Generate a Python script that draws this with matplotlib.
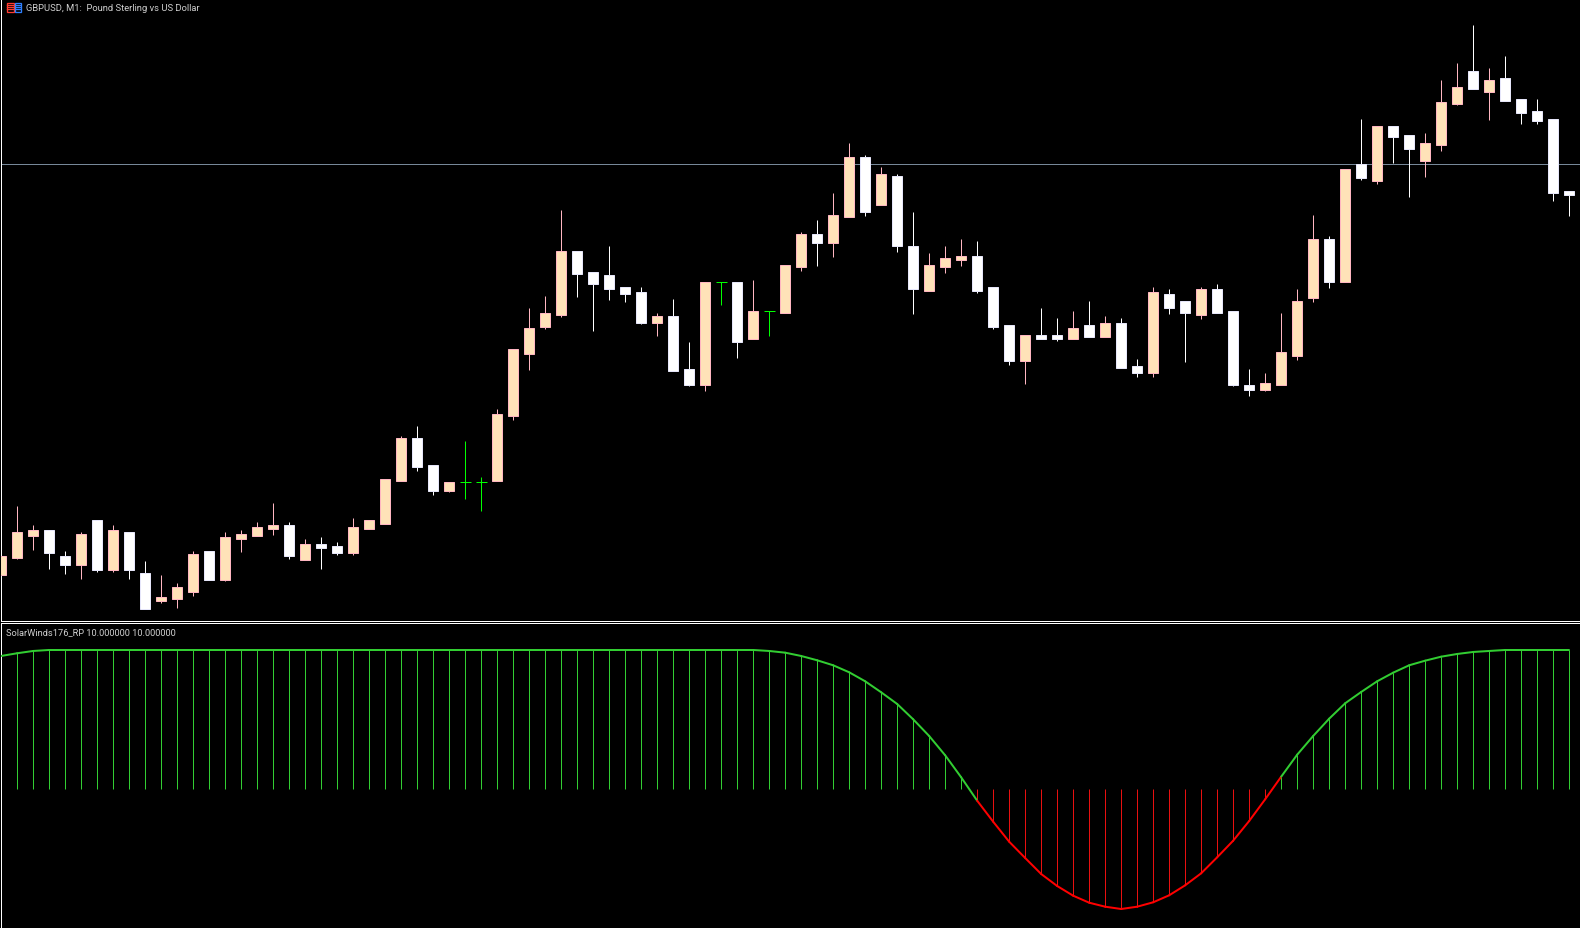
import matplotlib
matplotlib.use("Agg")
import matplotlib.pyplot as plt
from matplotlib.patches import Rectangle

W, H = 1580, 928

TITLE = "GBPUSD, M1:  Pound Sterling vs US Dollar"
INDICATOR = "SolarWinds176_RP 10.000000 10.000000"

# price in chart points, one entry per M1 bar
opens = [41, 58, 80, 86, 60, 51, 96, 46, 84, 43, 15, 17, 24, 65, 36, 77, 80, 87, 91, 56,
         72, 70, 63, 87, 92, 135, 178, 151, 125, 134, 134, 135, 200, 262, 289, 301, 365, 344, 341, 329,
         324, 293, 300, 247, 231, 334, 334, 277, 305, 303, 349, 382, 373, 399, 459, 411, 440, 370, 325, 349,
         356, 360, 329, 291, 255, 281, 281, 277, 291, 279, 293, 250, 243, 322, 315, 301, 327, 305, 231, 226,
         231, 260, 318, 377, 334, 452, 435, 490, 481, 455, 471, 512, 545, 524, 538, 517, 505, 497, 425]
highs = [60, 110, 91, 86, 65, 84, 96, 91, 84, 55, 41, 33, 65, 65, 84, 86, 94, 113, 94, 77,
         79, 74, 98, 96, 137, 180, 190, 151, 134, 175, 139, 207, 267, 308, 320, 406, 365, 344, 370, 329,
         329, 303, 317, 274, 334, 334, 334, 336, 305, 351, 384, 396, 423, 473, 461, 449, 442, 404, 363, 370,
         377, 375, 329, 291, 281, 308, 298, 305, 315, 300, 298, 257, 329, 327, 315, 329, 332, 305, 247, 243,
         303, 327, 401, 380, 447, 497, 490, 490, 481, 483, 536, 553, 591, 548, 560, 517, 517, 497, 425]
lows = [41, 57, 66, 47, 42, 37, 44, 44, 37, 7, 13, 8, 20, 36, 35, 64, 80, 81, 57, 56,
        47, 61, 61, 87, 92, 135, 145, 121, 124, 117, 105, 135, 196, 246, 287, 299, 319, 285, 316, 314,
        292, 280, 245, 230, 225, 311, 258, 277, 280, 303, 345, 350, 359, 399, 400, 411, 364, 302, 325, 343,
        350, 323, 287, 251, 232, 277, 275, 277, 279, 279, 248, 239, 239, 302, 254, 297, 303, 230, 220, 225,
        231, 256, 314, 328, 334, 436, 432, 453, 419, 439, 465, 511, 527, 496, 515, 492, 492, 415, 400]
closes = [60, 84, 86, 63, 51, 82, 46, 86, 46, 7, 19, 29, 62, 36, 79, 82, 89, 91, 60, 72,
          68, 63, 89, 96, 137, 178, 149, 125, 134, 134, 134, 202, 267, 288, 303, 365, 342, 332, 327, 322,
          293, 300, 245, 231, 334, 334, 274, 305, 305, 351, 382, 373, 401, 459, 404, 442, 370, 327, 351, 358,
          360, 325, 289, 255, 281, 277, 277, 288, 279, 293, 248, 243, 324, 308, 303, 327, 303, 231, 226, 233,
          264, 315, 377, 334, 447, 438, 490, 479, 467, 473, 514, 529, 527, 536, 515, 503, 495, 423, 421]

# SolarWinds indicator value for the same bars
solar = [133, 135.7, 138, 139, 139, 139, 139, 139, 139, 139, 139, 139, 139, 139, 139, 139, 139, 139, 139, 139,
         139, 139, 139, 139, 139, 139, 139, 139, 139, 139, 139, 139, 139, 139, 139, 139, 139, 139, 139, 139,
         139, 139, 139, 139, 139, 139, 139, 139, 138, 136.3, 133, 128.7, 123.7, 116.7, 107.7, 96.7, 85, 69.7, 53, 33.7,
         11.7, -11.7, -32.7, -52.7, -69, -85, -97, -106.7, -113.7, -117.7, -120, -117.7, -113.3, -106.3, -96.3, -84.3, -68.3, -51.7, -32, -10.3,
         12.3, 34.3, 53, 70.3, 85.7, 97, 107.7, 116.3, 123.7, 128.3, 132.3, 135, 137, 138, 139, 139, 139, 139, 139]

current_price = 452

BULL_FILL = "#FFE2B8"
BULL_EDGE = "#FFB6C1"
BEAR_FILL = "#FFFFFF"
BEAR_EDGE = "#E6E6FA"
DOJI = "#00FF00"
LINE_GREEN = "#32CD32"
LINE_RED = "#FF0000"
PX = 0.72  # one pixel in points at dpi 100
LEFT = 1.1  # left edge in pixels, Agg snaps this onto pixel column 1


def pane(top, bottom):
    ax = fig.add_axes([LEFT / W, 1 - bottom / H, (W - LEFT) / W, (bottom - top) / H])
    ax.set_facecolor("black")
    ax.set_xlim(0, (W - LEFT) / 16)
    ax.set_xticks([])
    ax.set_yticks([])
    for s in ("top", "right"):
        ax.spines[s].set_visible(False)
    ax.spines["left"].set_color("white")
    ax.spines["left"].set_linewidth(PX)
    return ax


# the 0.1 keeps int() from dropping a pixel row on 9.28 * 100
fig = plt.figure(figsize=((W + 0.1) / 100, (H + 0.1) / 100), dpi=100, facecolor="black")
plt.rcParams["font.family"] = ["Roboto", "DejaVu Sans"]

# candles
ax = pane(0, 621.5)
ax.set_ylim(-5, 616.5)
ax.spines["bottom"].set_color("white")
ax.spines["bottom"].set_linewidth(PX)
ax.axhline(current_price, color="#778899", lw=PX, zorder=1)

for i in range(len(opens)):
    o, h, l, c = opens[i], highs[i], lows[i], closes[i]
    if o == c:
        ax.vlines(i, l, h, color=DOJI, lw=PX, zorder=3)
        ax.hlines(c, i - 5.5 / 16, i + 5.5 / 16, color=DOJI, lw=PX, zorder=3)
        continue
    fill, edge = (BULL_FILL, BULL_EDGE) if c > o else (BEAR_FILL, BEAR_EDGE)
    ax.vlines(i, l, h, color=edge if c > o else BEAR_FILL, lw=PX, zorder=2)
    ax.bar(i, abs(c - o), bottom=min(o, c), width=10 / 16, color=fill,
           edgecolor=edge, linewidth=PX, zorder=3)

# indicator
ax2 = pane(623.5, H)
ax2.set_ylim(-139, 165.5)
ax2.spines["bottom"].set_visible(False)
ax2.spines["top"].set_visible(True)
ax2.spines["top"].set_color("white")
ax2.spines["top"].set_linewidth(PX)

for i, v in enumerate(solar):
    ax2.vlines(i, 0, v, color=LINE_GREEN if v > 0 else "#E81010", lw=PX, zorder=2)

for i in range(len(solar) - 1):
    red = solar[i] < 0
    ax2.plot([i, i + 1], solar[i:i + 2], color=LINE_RED if red else LINE_GREEN,
             lw=2 * PX, solid_capstyle="round", zorder=3)

# window text and the little chart icon, in pixel coordinates
ov = fig.add_axes([0, 0, 1, 1])
ov.set_xlim(0, W)
ov.set_ylim(H, 0)
ov.axis("off")
ov.patch.set_alpha(0)
ov.text(26, 8, TITLE, color="#CFCFCF", fontsize=6.75, va="center", ha="left")
ov.text(6, 632.5, INDICATOR, color="#CFCFCF", fontsize=6.7, va="center", ha="left")
ov.add_patch(Rectangle((6.5, 3.5), 7, 9, fill=False, edgecolor="#FF3B30", lw=1.3 * PX))
ov.add_patch(Rectangle((14.5, 3.5), 6, 9, fill=False, edgecolor="#2F80FF", lw=1.3 * PX))
for yy in (5.5, 7.5, 9.5):
    ov.plot([7, 13], [yy, yy], color="#FF3B30", lw=1.3 * PX)
    ov.plot([15, 20], [yy, yy], color="#2F80FF", lw=1.3 * PX)

fig.savefig("out.png", dpi=100, facecolor="black")
